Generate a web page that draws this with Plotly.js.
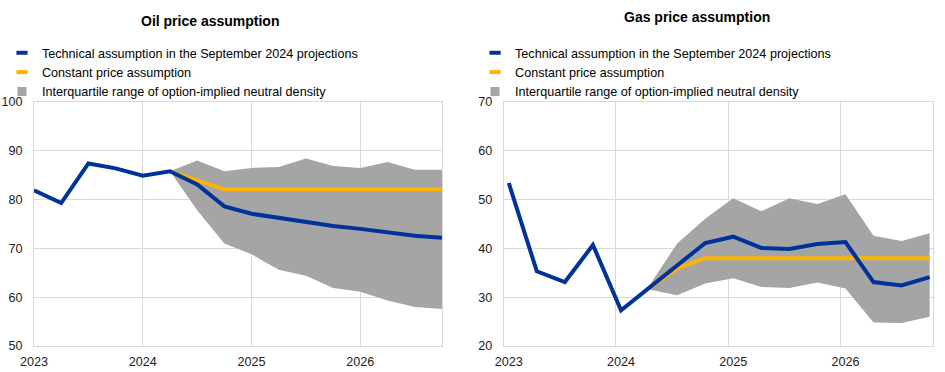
<!DOCTYPE html>
<html>
<head>
<meta charset="utf-8">
<script src="https://cdn.plot.ly/plotly-3.0.1.min.js"></script>
<style>html,body{margin:0;padding:0;background:#fff;}#chart{width:945px;height:372px;}</style>
</head>
<body>
<div id="chart"></div>
<script>
// Quarterly observations, 2023 Q1 - 2026 Q4
const quarters = ['2023 Q1','2023 Q2','2023 Q3','2023 Q4','2024 Q1','2024 Q2','2024 Q3','2024 Q4',
                  '2025 Q1','2025 Q2','2025 Q3','2025 Q4','2026 Q1','2026 Q2','2026 Q3','2026 Q4'];
const yearLabels = ['2023','2024','2025','2026'];

// Oil price assumption
const oilTechnical = [81.9, 79.3, 87.4, 86.4, 84.9, 85.8, 83.1, 78.6, 77.1, 76.2, 75.4, 74.6, 74.0, 73.2, 72.6, 72.2];
const oilConstant  = [null, null, null, null, null, 85.8, 84.0, 82.1, 82.1, 82.1, 82.1, 82.1, 82.1, 82.1, 82.1, 82.1];
const oilIqrUpper  = [null, null, null, null, null, 85.8, 88.0, 85.8, 86.5, 86.7, 88.4, 86.9, 86.5, 87.7, 86.1, 86.1];
const oilIqrLower  = [null, null, null, null, null, 85.8, 77.8, 71.0, 68.8, 65.6, 64.4, 61.9, 61.1, 59.3, 58.0, 57.6];

// Gas price assumption
const gasTechnical = [53.4, 35.3, 33.1, 40.7, 27.3, 31.9, 36.4, 41.1, 42.4, 40.1, 39.9, 40.9, 41.3, 33.1, 32.4, 34.1];
const gasConstant  = [null, null, null, null, null, 31.9, 35.9, 38.0, 38.0, 38.0, 38.0, 38.0, 38.0, 38.0, 38.0, 38.0];
const gasIqrUpper  = [null, null, null, null, null, 32.3, 41.0, 46.1, 50.3, 47.6, 50.3, 49.1, 51.1, 42.6, 41.5, 43.1];
const gasIqrLower  = [null, null, null, null, null, 31.6, 30.4, 32.8, 33.9, 32.1, 31.9, 33.0, 31.8, 24.8, 24.7, 26.0];

const seriesNames = ['Technical assumption in the September 2024 projections',
                     'Constant price assumption',
                     'Interquartile range of option-implied neutral density'];

const BLUE = '#003299', YELLOW = '#ffb400', GREY = '#a5a5a5', GRID = '#d9d9d9';
const FONT = 'Arial, "Liberation Sans", sans-serif';

const xIdx = quarters.map((q, i) => i);

function panel(tech, cons, upper, lower, xa, ya, lg) {
  return [
    {x: xIdx, y: lower, xaxis: xa, yaxis: ya, type: 'scatter', mode: 'lines',
     line: {width: 0, color: GREY}, showlegend: false, hoverinfo: 'skip', connectgaps: false},
    {x: xIdx, y: upper, xaxis: xa, yaxis: ya, type: 'scatter', mode: 'lines',
     line: {width: 0, color: GREY}, fill: 'tonexty', fillcolor: GREY, showlegend: false,
     name: seriesNames[2]},
    {x: xIdx, y: cons, xaxis: xa, yaxis: ya, type: 'scatter', mode: 'lines',
     line: {width: 4, color: YELLOW}, showlegend: false, name: seriesNames[1]},
    {x: xIdx, y: tech, xaxis: xa, yaxis: ya, type: 'scatter', mode: 'lines',
     line: {width: 4, color: BLUE}, showlegend: false, name: seriesNames[0]},
    // legend entries
    {x: [null], y: [null], xaxis: xa, yaxis: ya, type: 'scatter', mode: 'markers', legend: lg,
     name: seriesNames[0], marker: {symbol: 'line-ew', size: 8, line: {width: 4, color: BLUE}}},
    {x: [null], y: [null], xaxis: xa, yaxis: ya, type: 'scatter', mode: 'markers', legend: lg,
     name: seriesNames[1], marker: {symbol: 'line-ew', size: 8, line: {width: 4, color: YELLOW}}},
    {x: [null], y: [null], xaxis: xa, yaxis: ya, type: 'scatter', mode: 'markers', legend: lg,
     name: seriesNames[2], marker: {symbol: 'square', size: 9, color: GREY}}
  ];
}

const data = [].concat(
  panel(oilTechnical, oilConstant, oilIqrUpper, oilIqrLower, 'x', 'y', 'legend'),
  panel(gasTechnical, gasConstant, gasIqrUpper, gasIqrLower, 'x2', 'y2', 'legend2')
);

const axisCommon = {
  showgrid: true, gridcolor: GRID, gridwidth: 1,
  showline: true, linecolor: GRID, linewidth: 1, mirror: true,
  zeroline: false, ticks: '', fixedrange: true,
  tickfont: {family: FONT, size: 12.6, color: '#222'}
};

const legendCommon = {
  xanchor: 'left', y: 1.262, yanchor: 'top', traceorder: 'normal',
  bgcolor: 'rgba(0,0,0,0)', borderwidth: 0,
  font: {family: FONT, size: 12.6, color: '#000'}, itemwidth: 30, tracegroupgap: 0
};

const layout = {
  width: 945, height: 372,
  margin: {l: 34, r: 12, t: 102, b: 26, autoexpand: false},
  paper_bgcolor: '#fff', plot_bgcolor: '#fff',
  font: {family: FONT, size: 12, color: '#000'},
  xaxis: Object.assign({}, axisCommon, {
    domain: [0, 0.4538], range: [0, 15],
    tickmode: 'array', tickvals: [0, 4, 8, 12], ticktext: yearLabels, ticklabelstandoff: 4
  }),
  yaxis: Object.assign({}, axisCommon, {
    domain: [0, 1], range: [50, 100], dtick: 10, tick0: 50, ticklabelstandoff: 8
  }),
  xaxis2: Object.assign({}, axisCommon, {
    domain: [0.5225, 1], range: [-0.18, 15.12], anchor: 'y2',
    tickmode: 'array', tickvals: [-0.18, 3.82, 7.82, 11.82], ticktext: yearLabels,
    ticklabelshift: 5, ticklabelstandoff: 4
  }),
  yaxis2: Object.assign({}, axisCommon, {
    domain: [0, 1], range: [20, 70], dtick: 10, tick0: 20, anchor: 'x2', ticklabelstandoff: 8
  }),
  legend: Object.assign({}, legendCommon, {x: -0.0356}),
  legend2: Object.assign({}, legendCommon, {x: 0.4906}),
  annotations: [
    {text: '<b>Oil price assumption</b>', xref: 'paper', yref: 'paper', x: 0.1958, y: 1.334,
     xanchor: 'center', yanchor: 'middle', showarrow: false, font: {family: FONT, size: 14, color: '#000'}},
    {text: '<b>Gas price assumption</b>', xref: 'paper', yref: 'paper', x: 0.7375, y: 1.3496,
     xanchor: 'center', yanchor: 'middle', showarrow: false, font: {family: FONT, size: 14, color: '#000'}}
  ],
  showlegend: true
};

Plotly.newPlot('chart', data, layout, {staticPlot: true, displayModeBar: false});
</script>
</body>
</html>
